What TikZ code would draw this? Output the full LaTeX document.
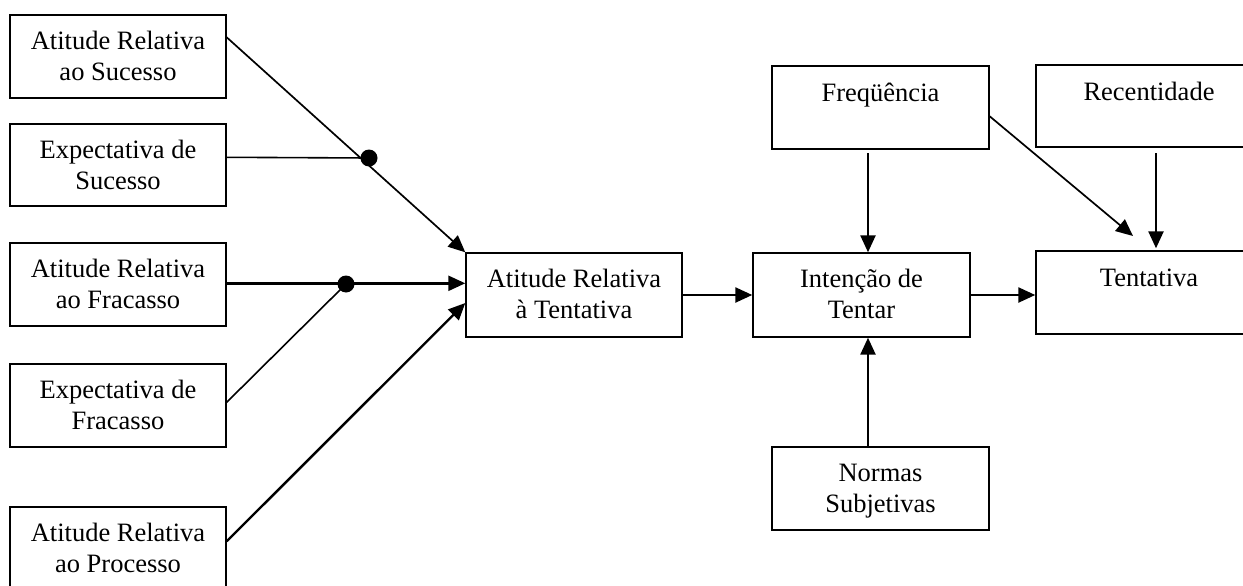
\documentclass[tikz,border=0pt]{standalone}
\usepackage{fontspec}
\setmainfont{Liberation Serif}
\usetikzlibrary{arrows.meta,calc}

% box: #1 name, (#2,#3) top-left, (#4,#5) bottom-right, #6 text, #7 drop of last baseline
\newcommand{\mkbox}[7]{%
  \node[box, minimum width={(#4-#2)*1pt}, minimum height={(#5-#3)*1pt}]
    (#1) at ({(#2+#4)/2},{(#3+#5)/2}) {};
  \node[lbl] (#1-t) at ([yshift=-#7pt]#1.north) {#6};}

\tikzset{
  box/.style={draw, line width=1.4pt, rectangle, inner sep=0pt},
  lbl/.style={anchor=base, align=center, inner sep=0pt,
              font=\fontsize{26.5}{31}\selectfont},
  arr/.style={line width=2.4pt, -{Triangle[length=17pt,width=15pt]}},
  thinarr/.style={line width=1.7pt, -{Triangle[length=17pt,width=15pt]}},
  link/.style={line width=1.6pt},
  knot/.style={circle, fill, inner sep=0pt, minimum size=17pt},
}

\begin{document}
\begin{tikzpicture}[x=1pt,y=-1pt]
\useasboundingbox (0,0) rectangle (1243,586);

% antecedents
\mkbox{aS}{10}{15}{226}{98}{Atitude Relativa\\ao Sucesso}{66}
\mkbox{eS}{10}{124}{226}{206}{Expectativa de\\Sucesso}{66}
\mkbox{aF}{10}{243}{226}{326}{Atitude Relativa\\ao Fracasso}{66}
\mkbox{eF}{10}{364}{226}{447}{Expectativa de\\Fracasso}{66}
\mkbox{aP}{10}{507}{226}{592}{Atitude Relativa\\ao Processo}{66}

% central chain
\mkbox{aT}{466}{253}{682}{337}{Atitude Relativa\\à Tentativa}{66}
\mkbox{iT}{753}{253}{970}{337}{Intenção de\\Tentar}{66}
\mkbox{tt}{1036}{251}{1262}{334}{Tentativa}{36}

% habit factors and norms
\mkbox{fr}{772}{66}{989}{149}{Freqüência}{36}
\mkbox{rc}{1036}{65}{1262}{147}{Recentidade}{36}
\mkbox{ns}{772}{447}{989}{530}{Normas\\Subjetivas}{66}

% interaction points
\node[knot] (d1) at (369,158) {};
\node[knot] (d2) at (346,284) {};

% free ends
\coordinate (f1) at (868,153);
\coordinate (r1) at (1156,153);
\coordinate (t1) at (1133,236);
\coordinate (n1) at (868,447);

% connectors into the attitude toward trying
\draw[thinarr] ($(aS.north east)+(0,23)$) -- (aT.north west);
\draw[link] ($(eS.north east)+(0,34)$) -- (d1.center);
\draw[arr] ($(aF.north east)+(0,41)$) -- ($(aT.north west)+(0,31)$);
\draw[link] ($(eF.north east)+(0,39)$) -- (d2.center);
\draw[arr] ($(aP.north east)+(0,35)$) -- ($(aT.west)+(0,8)$);

% main chain
\draw[arr] (aT.east) -- (iT.west);
\draw[arr] (iT.east) -- (tt.west |- iT.east);

% habit and norms
\draw[arr] (f1) -- (f1 |- iT.north);
\draw[thinarr] ($(fr.north east)+(0,51)$) -- (t1);
\draw[arr] (r1) -- ($(r1 |- tt.north)+(0,-2)$);
\draw[arr] (n1) -- (n1 |- iT.south);
\end{tikzpicture}
\end{document}
